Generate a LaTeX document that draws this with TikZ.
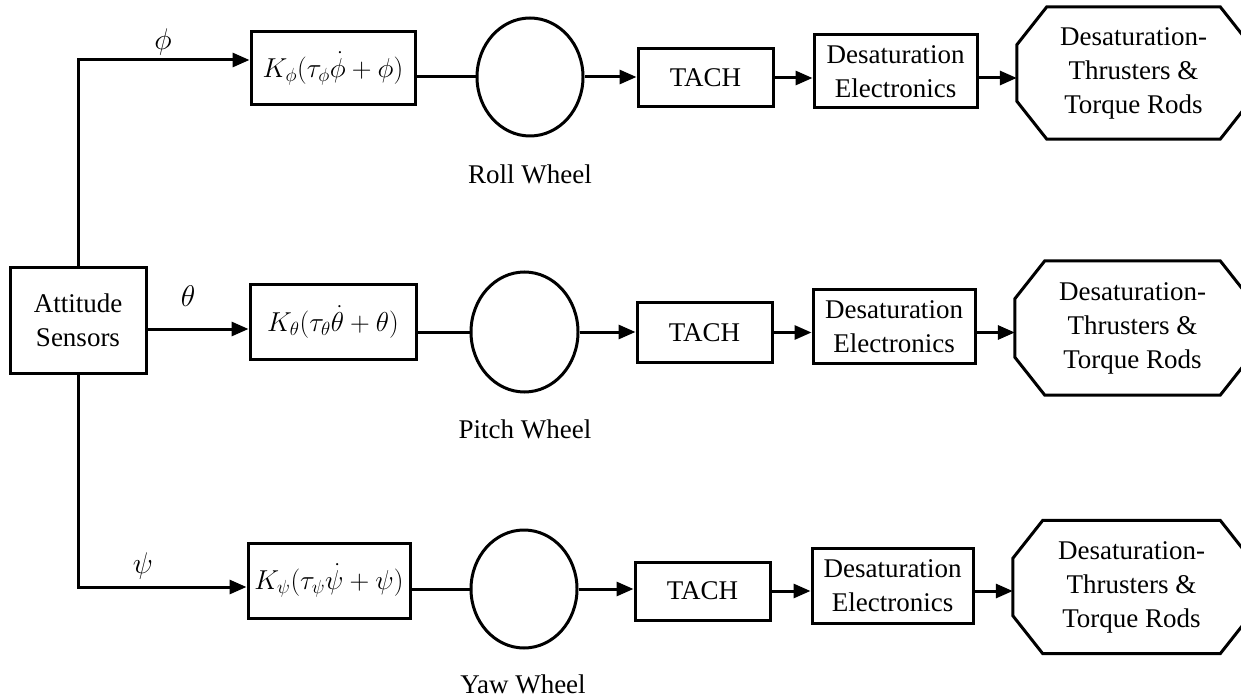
\documentclass[tikz,border=0pt]{standalone}
\usepackage{fontspec}
\setmainfont{Liberation Serif}
\usetikzlibrary{arrows.meta,calc,shapes.geometric}
\newcommand\octpath[1]{%
  \draw[line width=3pt, line join=miter]
    ([xshift=30pt]#1.north west) -- ([xshift=-30pt]#1.north east)
    -- ([yshift=-38pt]#1.north east) -- ([yshift=38pt]#1.south east)
    -- ([xshift=-30pt]#1.south east) -- ([xshift=30pt]#1.south west)
    -- ([yshift=38pt]#1.south west) -- ([yshift=-38pt]#1.north west) -- cycle;}
\newcommand\fml[1]{\scalebox{1.1}{$#1$}}
\newcommand\gkl[1]{\scalebox{1.2}{$#1$}}
\begin{document}
\begin{tikzpicture}[x=1pt,y=-1pt,
  every node/.style={font=\fontsize{27}{34}\selectfont, inner sep=0pt},
  blk/.style={draw, line width=3pt, rectangle, align=center},
  frm/.style={blk},
  whl/.style={draw, line width=3pt, ellipse, minimum width=106pt, minimum height=118pt},
  oct/.style={rectangle, align=center},
  lbl/.style={anchor=base},
  ln/.style={line width=3pt},
  arr/.style={line width=3pt, -{Triangle[length=17pt,width=14pt]}}]
\useasboundingbox (0,0) rectangle (1241,700);

% sensors
\node[blk, minimum width=136pt, minimum height=105pt] (sens) at (78,320.5) {Attitude\\Sensors};

\coordinate (c1) at (78,60);
\coordinate (c2) at (78,329);
\coordinate (c3) at (78,587);

% row 1
\node[frm, minimum width=164pt, minimum height=73pt] (f1) at (333,68.5) {\fml{K_{\phi}(\tau_{\phi}\dot{\phi}+\phi)}};
\node[whl] (w1) at (530,77) {};
\node[blk, minimum width=135pt, minimum height=58pt] (t1) at (705.5,78) {TACH};
\node[blk, minimum width=163pt, minimum height=73pt] (d1) at (895.5,71.5) {Desaturation\\Electronics};
\node[oct, minimum width=233pt, minimum height=132pt] (o1) at (1133.5,73) {Desaturation-\\Thrusters \&\\Torque Rods};
\octpath{o1}
\node[lbl] (l1) at (530,184) {Roll Wheel};
\node (p1) at (163,42) {\gkl{\phi}};

% row 2
\node[frm, minimum width=166pt, minimum height=74pt] (f2) at (333,322) {\fml{K_{\theta}(\tau_{\theta}\dot{\theta}+\theta)}};
\node[whl, minimum width=107pt, minimum height=120pt] (w2) at (524.5,332) {};
\node[blk, minimum width=135pt, minimum height=59pt] (t2) at (704.5,332.5) {TACH};
\node[blk, minimum width=162pt, minimum height=73pt] (d2) at (894,326.5) {Desaturation\\Electronics};
\node[oct, minimum width=235pt, minimum height=134pt] (o2) at (1132.5,328) {Desaturation-\\Thrusters \&\\Torque Rods};
\octpath{o2}
\node[lbl] (l2) at (525,438) {Pitch Wheel};
\node (p2) at (188,296) {\gkl{\theta}};

% row 3
\node[frm, minimum width=162pt, minimum height=75pt] (f3) at (329,580.5) {\fml{K_{\psi}(\tau_{\psi}\dot{\psi}+\psi)}};
\node[whl] (w3) at (524,589) {};
\node[blk, minimum width=135pt, minimum height=58pt] (t3) at (702.5,591) {TACH};
\node[blk, minimum width=161pt, minimum height=75pt] (d3) at (892.5,585.5) {Desaturation\\Electronics};
\node[oct, minimum width=237pt, minimum height=133pt] (o3) at (1131.5,587) {Desaturation-\\Thrusters \&\\Torque Rods};
\octpath{o3}
\node[lbl] (l3) at (523,693) {Yaw Wheel};
\node (p3) at (143,566) {\gkl{\psi}};

% connectors from sensors
\draw[arr] (sens.north) |- (f1.west |- c1);
\draw[arr] (sens.east |- c2) -- (f2.west |- c2);
\draw[arr] (sens.south) |- (f3.west |- c3);

% row connectors
\foreach \i in {1,2,3}{
  \draw[ln] (f\i.east |- w\i) -- (w\i.west);
  \draw[arr] (w\i.east) -- (t\i.west |- w\i);
  \draw[arr] (t\i.east) -- (d\i.west |- t\i);
  \draw[arr] (d\i.east |- t\i) -- (o\i.west |- t\i);
}
\end{tikzpicture}
\end{document}
